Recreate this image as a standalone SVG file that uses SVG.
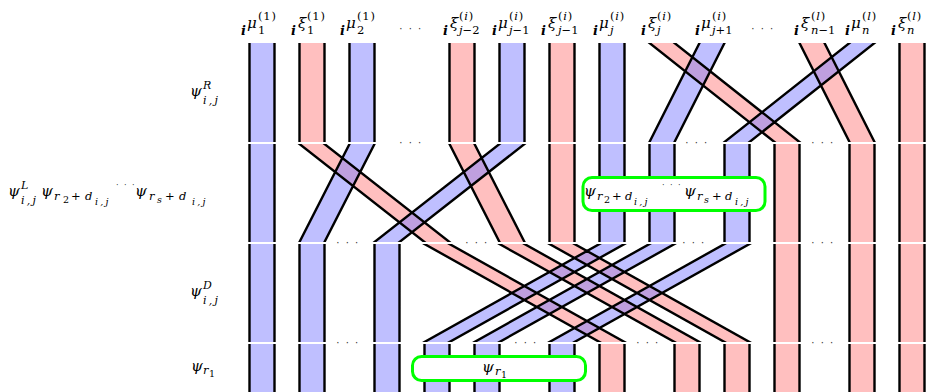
<svg xmlns="http://www.w3.org/2000/svg" width="927" height="392" viewBox="0 0 927 392">
<style>
.m{font-family:"DejaVu Serif","Liberation Serif",serif;font-style:italic;fill:#000}
.bi{font-weight:bold;font-size:13px}
.g{font-size:15px}
.p{font-size:15px}
.s{font-size:11.5px}
.t{font-size:11px}
.ss{font-size:9.5px}
.u{font-style:normal}
.sp{letter-spacing:0.8px}
.ij{letter-spacing:2.2px}
.dots{font-family:"DejaVu Sans",sans-serif;font-size:10px;fill:#333;text-anchor:middle;letter-spacing:1.5px}
.bf{fill:#8080ff;fill-opacity:0.5}
.rf{fill:#ff8080;fill-opacity:0.5}
.e{fill:none;stroke:#000;stroke-width:2.4}
.box{fill:#fff;stroke:#00ff00;stroke-width:3}
</style>
<defs>
<clipPath id="c1"><rect x="0" y="43" width="927" height="99"/></clipPath>
<clipPath id="c2"><rect x="0" y="144" width="927" height="98"/></clipPath>
<clipPath id="c3"><rect x="0" y="244" width="927" height="98"/></clipPath>
<clipPath id="c4"><rect x="0" y="344" width="927" height="48"/></clipPath>
</defs>
<rect width="927" height="392" fill="#fff"/>

<g id="header">
<text class="m"><tspan class="bi" x="241" y="35">i</tspan><tspan class="g" x="247" y="28">μ</tspan><tspan class="s u" x="258" y="34">1</tspan><tspan class="s u sp" x="258" y="20">(1)</tspan></text>
<text class="m"><tspan class="bi" x="291" y="35">i</tspan><tspan class="g" x="298" y="28">ξ</tspan><tspan class="s u" x="307" y="34">1</tspan><tspan class="s u sp" x="307" y="20">(1)</tspan></text>
<text class="m"><tspan class="bi" x="340" y="35">i</tspan><tspan class="g" x="346" y="28">μ</tspan><tspan class="s u" x="357" y="34">2</tspan><tspan class="s u sp" x="357" y="20">(1)</tspan></text>
<text class="dots" x="411" y="32">· · ·</text>
<text class="m"><tspan class="bi" x="443" y="35">i</tspan><tspan class="g" x="450" y="28">ξ</tspan><tspan class="s" x="459" y="34">j<tspan class="u">−2</tspan></tspan><tspan class="s sp" x="459" y="20"><tspan class="u">(</tspan>i<tspan class="u">)</tspan></tspan></text>
<text class="m"><tspan class="bi" x="492" y="35">i</tspan><tspan class="g" x="498" y="28">μ</tspan><tspan class="s" x="509" y="34">j<tspan class="u">−1</tspan></tspan><tspan class="s sp" x="509" y="20"><tspan class="u">(</tspan>i<tspan class="u">)</tspan></tspan></text>
<text class="m"><tspan class="bi" x="541" y="35">i</tspan><tspan class="g" x="548" y="28">ξ</tspan><tspan class="s" x="558" y="34">j<tspan class="u">−1</tspan></tspan><tspan class="s sp" x="558" y="20"><tspan class="u">(</tspan>i<tspan class="u">)</tspan></tspan></text>
<text class="m"><tspan class="bi" x="593" y="35">i</tspan><tspan class="g" x="599" y="28">μ</tspan><tspan class="s" x="610" y="34">j</tspan><tspan class="s sp" x="610" y="20"><tspan class="u">(</tspan>i<tspan class="u">)</tspan></tspan></text>
<text class="m"><tspan class="bi" x="641" y="35">i</tspan><tspan class="g" x="648" y="28">ξ</tspan><tspan class="s" x="657" y="34">j</tspan><tspan class="s sp" x="657" y="20"><tspan class="u">(</tspan>i<tspan class="u">)</tspan></tspan></text>
<text class="m"><tspan class="bi" x="695" y="35">i</tspan><tspan class="g" x="701" y="28">μ</tspan><tspan class="s" x="712" y="34">j<tspan class="u">+1</tspan></tspan><tspan class="s sp" x="712" y="20"><tspan class="u">(</tspan>i<tspan class="u">)</tspan></tspan></text>
<text class="dots" x="763" y="32">· · ·</text>
<text class="m"><tspan class="bi" x="794" y="35">i</tspan><tspan class="g" x="801" y="28">ξ</tspan><tspan class="s" x="811" y="34">n<tspan class="u">−1</tspan></tspan><tspan class="s sp" x="811" y="20"><tspan class="u">(</tspan>l<tspan class="u">)</tspan></tspan></text>
<text class="m"><tspan class="bi" x="845" y="35">i</tspan><tspan class="g" x="851" y="28">μ</tspan><tspan class="s" x="862" y="34">n</tspan><tspan class="s sp" x="862" y="20"><tspan class="u">(</tspan>l<tspan class="u">)</tspan></tspan></text>
<text class="m"><tspan class="bi" x="891" y="35">i</tspan><tspan class="g" x="898" y="28">ξ</tspan><tspan class="s" x="907" y="34">n</tspan><tspan class="s sp" x="907" y="20"><tspan class="u">(</tspan>l<tspan class="u">)</tspan></tspan></text>
</g>

<g id="row-labels">
<text id="lab-R" class="m"><tspan class="p" x="190" y="96">ψ</tspan><tspan class="t" x="203" y="89">R</tspan><tspan class="t ij" x="203" y="103.5">i,j</tspan></text>
<text id="lab-L" class="m"><tspan class="p" x="8" y="196">ψ</tspan><tspan class="t" x="21" y="189">L</tspan><tspan class="t ij" x="21" y="203.5">i,j</tspan><tspan class="p" x="41" y="196">ψ</tspan><tspan class="s" x="54" y="200">r</tspan><tspan class="ss u" x="63" y="203">2</tspan><tspan class="s u" x="71" y="200">+</tspan><tspan class="s" x="85" y="200">d</tspan><tspan class="ss ij" x="95" y="205">i,j</tspan><tspan class="p" x="135" y="196">ψ</tspan><tspan class="s" x="149" y="200">r</tspan><tspan class="ss" x="157" y="203">s</tspan><tspan class="s u" x="165" y="200">+</tspan><tspan class="s" x="179" y="200">d</tspan><tspan class="ss ij" x="192" y="205">i,j</tspan></text>
<text class="dots" x="126" y="188" style="font-size:8px">· · ·</text>
<text id="lab-D" class="m"><tspan class="p" x="190" y="296">ψ</tspan><tspan class="t" x="203" y="289">D</tspan><tspan class="t ij" x="203" y="303.5">i,j</tspan></text>
<text id="lab-r1" class="m"><tspan class="p" x="191" y="371">ψ</tspan><tspan class="s" x="203" y="374">r</tspan><tspan class="ss u" x="209" y="377">1</tspan></text>
</g>

<g id="connectors">
<g id="row1" clip-path="url(#c1)">
<rect class="rf" x="299.5" y="43" width="25" height="99"/>
<rect class="rf" x="449.5" y="43" width="25" height="99"/>
<rect class="rf" x="549.5" y="43" width="25" height="99"/>
<rect class="rf" x="899.5" y="43" width="25" height="99"/>
<polygon class="rf" points="649.5,43 674.5,43 799.5,142 774.5,142"/>
<polygon class="rf" points="799.5,43 824.5,43 874.5,142 849.5,142"/>
<rect class="bf" x="249.5" y="43" width="25" height="99"/>
<rect class="bf" x="349.5" y="43" width="25" height="99"/>
<rect class="bf" x="499.5" y="43" width="25" height="99"/>
<rect class="bf" x="599.5" y="43" width="25" height="99"/>
<polygon class="bf" points="699.5,43 724.5,43 674.5,142 649.5,142"/>
<polygon class="bf" points="849.5,43 874.5,43 749.5,142 724.5,142"/>
<path class="e" d="M249.5 43V142M274.5 43V142M299.5 43V142M324.5 43V142M349.5 43V142M374.5 43V142M449.5 43V142M474.5 43V142M499.5 43V142M524.5 43V142M549.5 43V142M574.5 43V142M599.5 43V142M624.5 43V142M899.5 43V142M924.5 43V142M644.45 39L779.55 146M669.45 39L804.55 146M701.52 39L647.48 146M726.52 39L672.48 146M797.48 39L851.52 146M822.48 39L876.52 146M854.55 39L719.45 146M879.55 39L744.45 146"/>
</g>
<g id="row2" clip-path="url(#c2)">
<polygon class="rf" points="299.5,144 324.5,144 449.5,242 424.5,242"/>
<polygon class="rf" points="449.5,144 474.5,144 524.5,242 499.5,242"/>
<rect class="rf" x="549.5" y="144" width="25" height="98"/>
<rect class="rf" x="774.5" y="144" width="25" height="98"/>
<rect class="rf" x="849.5" y="144" width="25" height="98"/>
<rect class="rf" x="899.5" y="144" width="25" height="98"/>
<rect class="bf" x="249.5" y="144" width="25" height="98"/>
<polygon class="bf" points="349.5,144 374.5,144 324.5,242 299.5,242"/>
<polygon class="bf" points="499.5,144 524.5,144 399.5,242 374.5,242"/>
<rect class="bf" x="599.5" y="144" width="25" height="98"/>
<rect class="bf" x="649.5" y="144" width="25" height="98"/>
<rect class="bf" x="724.5" y="144" width="25" height="98"/>
<path class="e" d="M249.5 144V242M274.5 144V242M549.5 144V242M574.5 144V242M599.5 144V242M624.5 144V242M649.5 144V242M674.5 144V242M724.5 144V242M749.5 144V242M774.5 144V242M799.5 144V242M849.5 144V242M874.5 144V242M899.5 144V242M924.5 144V242M294.4 140L429.6 246M319.4 140L454.6 246M351.54 140L297.46 246M376.54 140L322.46 246M447.46 140L501.54 246M472.46 140L526.54 246M504.6 140L369.4 246M529.6 140L394.4 246"/>
</g>
<g id="row3" clip-path="url(#c3)">
<polygon class="rf" points="424.5,244 449.5,244 624.5,342 599.5,342"/>
<polygon class="rf" points="499.5,244 524.5,244 699.5,342 674.5,342"/>
<polygon class="rf" points="549.5,244 574.5,244 749.5,342 724.5,342"/>
<rect class="rf" x="774.5" y="244" width="25" height="98"/>
<rect class="rf" x="849.5" y="244" width="25" height="98"/>
<rect class="rf" x="899.5" y="244" width="25" height="98"/>
<rect class="bf" x="249.5" y="244" width="25" height="98"/>
<rect class="bf" x="299.5" y="244" width="25" height="98"/>
<rect class="bf" x="374.5" y="244" width="25" height="98"/>
<polygon class="bf" points="599.5,244 624.5,244 449.5,342 424.5,342"/>
<polygon class="bf" points="649.5,244 674.5,244 499.5,342 474.5,342"/>
<polygon class="bf" points="724.5,244 749.5,244 574.5,342 549.5,342"/>
<path class="e" d="M249.5 244V342M274.5 244V342M299.5 244V342M324.5 244V342M374.5 244V342M399.5 244V342M774.5 244V342M799.5 244V342M849.5 244V342M874.5 244V342M899.5 244V342M924.5 244V342M417.36 240L606.64 346M442.36 240L631.64 346M492.36 240L681.64 346M517.36 240L706.64 346M542.36 240L731.64 346M567.36 240L756.64 346M606.64 240L417.36 346M631.64 240L442.36 346M656.64 240L467.36 346M681.64 240L492.36 346M731.64 240L542.36 346M756.64 240L567.36 346"/>
</g>
<g id="row4" clip-path="url(#c4)">
<rect class="bf" x="249.5" y="344" width="25" height="48"/>
<rect class="bf" x="299.5" y="344" width="25" height="48"/>
<rect class="bf" x="374.5" y="344" width="25" height="48"/>
<rect class="bf" x="424.5" y="344" width="25" height="48"/>
<rect class="bf" x="474.5" y="344" width="25" height="48"/>
<rect class="bf" x="549.5" y="344" width="25" height="48"/>
<rect class="rf" x="599.5" y="344" width="25" height="48"/>
<rect class="rf" x="674.5" y="344" width="25" height="48"/>
<rect class="rf" x="724.5" y="344" width="25" height="48"/>
<rect class="rf" x="774.5" y="344" width="25" height="48"/>
<rect class="rf" x="849.5" y="344" width="25" height="48"/>
<rect class="rf" x="899.5" y="344" width="25" height="48"/>
<path class="e" d="M249.5 344V392M274.5 344V392M299.5 344V392M324.5 344V392M374.5 344V392M399.5 344V392M424.5 344V392M449.5 344V392M474.5 344V392M499.5 344V392M549.5 344V392M574.5 344V392M599.5 344V392M624.5 344V392M674.5 344V392M699.5 344V392M724.5 344V392M749.5 344V392M774.5 344V392M799.5 344V392M849.5 344V392M874.5 344V392M899.5 344V392M924.5 344V392"/>
</g>
</g>

<g id="ellipses">
<text class="dots" x="411" y="146">· · ·</text>
<text class="dots" x="697" y="146">· · ·</text>
<text class="dots" x="823" y="146">· · ·</text>
<text class="dots" x="348" y="246">· · ·</text>
<text class="dots" x="477" y="246">· · ·</text>
<text class="dots" x="694" y="246">· · ·</text>
<text class="dots" x="823" y="246">· · ·</text>
<text class="dots" x="348" y="346">· · ·</text>
<text class="dots" x="526" y="346">· · ·</text>
<text class="dots" x="648" y="346">· · ·</text>
<text class="dots" x="823" y="346">· · ·</text>
</g>

<g id="box-rs">
<rect class="box" x="583" y="177.5" width="182" height="33" rx="9"/>
<text class="m"><tspan class="p" x="584" y="196">ψ</tspan><tspan class="s" x="597" y="200">r</tspan><tspan class="ss u" x="604" y="203">2</tspan><tspan class="s u" x="612" y="200">+</tspan><tspan class="s" x="625" y="200">d</tspan><tspan class="ss ij" x="634" y="205">i,j</tspan><tspan class="p" x="684" y="196">ψ</tspan><tspan class="s" x="697" y="200">r</tspan><tspan class="ss" x="704" y="203">s</tspan><tspan class="s u" x="712" y="200">+</tspan><tspan class="s" x="725" y="200">d</tspan><tspan class="ss ij" x="735" y="205">i,j</tspan></text>
<text class="dots" x="672" y="188" style="font-size:8px">· · ·</text>
</g>

<g id="box-r1">
<rect class="box" x="412.5" y="356.5" width="173" height="24" rx="9"/>
<text class="m"><tspan class="p" x="482" y="372">ψ</tspan><tspan class="s" x="495" y="375">r</tspan><tspan class="ss u" x="501" y="378">1</tspan></text>
</g>
</svg>
